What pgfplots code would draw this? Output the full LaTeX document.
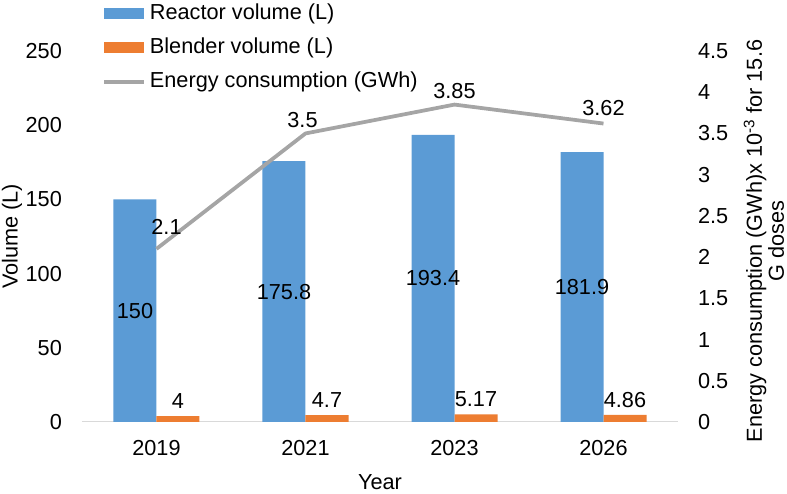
\documentclass[border=0pt]{standalone}
\usepackage{fontspec}
\setmainfont{Liberation Sans}
\usepackage{pgfplots}
\usepackage{pgfplotstable}
\pgfplotsset{compat=1.18}
\usetikzlibrary{calc}
\definecolor{cblue}{HTML}{5B9BD5}
\definecolor{corange}{HTML}{ED7D31}
\definecolor{cgray}{HTML}{A5A5A5}
\definecolor{caxis}{HTML}{D9D9D9}

\pgfplotstableread{
x y
0 150
1 175.8
2 193.4
3 181.9
}\reactor
\pgfplotstableread{
x y
0 4
1 4.7
2 5.17
3 4.86
}\blender
\pgfplotstableread{
x y dx dy
0 2.1 10 22
1 3.5 -3 13
2 3.85 0 14
3 3.62 0 16
}\energy

\begin{document}
\fontsize{21.7}{25}\selectfont
\begin{tikzpicture}[font=\fontsize{21.7}{25}\selectfont]
\pgfplotsset{
  common/.style={
    scale only axis, width=596pt, height=371pt,
    xmin=-0.5, xmax=3.5,
    /pgf/number format/assume math mode=true,
    clip=false,
  }
}
\begin{axis}[common, name=ax,
  ymin=0, ymax=250, ytick={0,50,...,250},
  axis x line*=bottom, axis y line*=left,
  x axis line style={draw=caxis, line width=1pt, -},
  y axis line style={draw=none},
  ytick style={draw=none},
  yticklabel shift=12.7pt,
  xtick={0,1,2,3}, xticklabels={2019,2021,2023,2026},
  xtick style={draw=none},
  xticklabel shift=10.7pt,
  extra x ticks={-0.5,0.5,1.5,2.5,3.5}, extra x tick labels={},
  extra x tick style={tick style={draw=caxis, line width=1pt}, major tick length=6pt, tick align=outside},
  xlabel={Year}, ylabel={Volume (L)},
  every axis x label/.style={at={($(rel axis cs:0.5,0)+(0,-60pt)$)}, anchor=center},
  every axis y label/.style={at={($(rel axis cs:0,0.5)+(-70pt,0)$)}, anchor=center, rotate=90},
  legend cell align=left,
  legend style={draw=none, fill=none, at={(rel axis cs:0,1)}, anchor=north west, xshift=20pt, yshift=49pt, row sep=11pt, inner sep=0pt, column sep=2pt},
]
\addplot[ybar, fill=cblue, draw=none, bar width=43pt, bar shift=-21.5pt,
  legend image code/.code={\fill[cblue] (0pt,-5.5pt) rectangle (40pt,5.5pt);},
  nodes near coords, nodes near coords align=center,
  visualization depends on={\thisrow{y} \as \ry},
  every node near coord/.append style={text=black, xshift=-21.5pt, yshift={-0.742pt*\ry}}]
  table[x=x,y=y]{\reactor};
\addlegendentry{Reactor volume (L)}
\addplot[ybar, fill=corange, draw=none, bar width=43pt, bar shift=21.5pt,
  legend image code/.code={\fill[corange] (0pt,-5.5pt) rectangle (40pt,5.5pt);},
  nodes near coords,
  every node near coord/.append style={text=black, xshift=21.5pt}]
  table[x=x,y=y]{\blender};
\addlegendentry{Blender volume (L)}
\addlegendimage{legend image code/.code={\draw[cgray, line width=3.75pt] (0pt,0pt)--(40pt,0pt);}}
\addlegendentry{Energy consumption (GWh)}
\end{axis}
\begin{axis}[common,
  ymin=0, ymax=4.5, ytick={0,0.5,...,4.5},
  axis y line*=right, axis x line=none,
  y axis line style={draw=none},
  ytick style={draw=none},
  yticklabel shift=12.7pt,
  yticklabel style={/pgf/number format/fixed},
  ylabel={Energy consumption (GWh)x 10\textsuperscript{-3} for 15.6\\G doses},
  every axis y label/.style={at={($(rel axis cs:1,0.5)+(86pt,-4.5pt)$)}, anchor=center, rotate=90, align=center, font=\fontsize{21.7}{22}\selectfont},
]
\addplot[cgray, line width=3.75pt, line join=round, no marks,
  nodes near coords,
  visualization depends on={\thisrow{dx} \as \dx},
  visualization depends on={\thisrow{dy} \as \dy},
  every node near coord/.append style={text=black, anchor=center, xshift=\dx pt, yshift=\dy pt}]
  table[x=x,y=y]{\energy};
\end{axis}
\pgfresetboundingbox
\path ($(ax.south west)+(-82pt,-72pt)$) rectangle ($(ax.north east)+(109pt,51pt)$);
\end{tikzpicture}
\end{document}
